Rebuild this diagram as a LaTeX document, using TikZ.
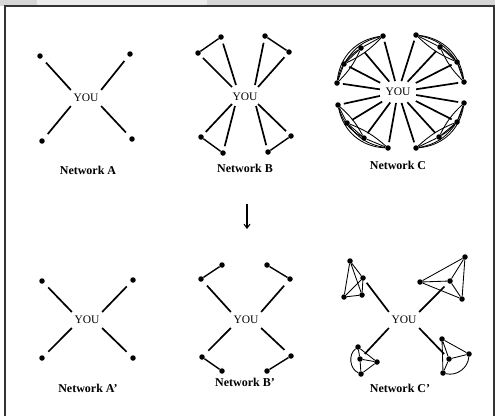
\documentclass[tikz,border=0pt]{standalone}
\usepackage{fontspec}
\setmainfont{Liberation Serif}
\usetikzlibrary{calc,arrows.meta}
\definecolor{stripgray}{HTML}{D6D6D6}
\definecolor{striplight}{HTML}{EBEBEB}
\definecolor{framegray}{HTML}{333333}
\begin{document}
\begin{tikzpicture}[x=1pt,y=-1pt,
  dot/.style={circle,fill=black,inner sep=0pt,minimum size=5.5pt},
  you/.style={inner xsep=2.5pt,inner ysep=4pt,font=\fontsize{11.5}{12}\selectfont},
  netlabel/.style={font=\fontsize{12}{13}\selectfont\bfseries},
  link/.style={line width=1.7pt},
  tie/.style={line width=1.4pt},
  thin tie/.style={line width=0.85pt},
  vbend/.style={bend right=#1},
]
\useasboundingbox (0,0) rectangle (495,416);

% page strip and frame
\fill[stripgray] (0,0) rectangle (495,6);
\fill[striplight] (37,0) rectangle (207,6);
\draw[framegray,line width=1.5pt] (5,416) -- (5,6) -- (494,6) -- (494,416);

% ---------------- Network A ----------------
\node[you] (ya) at (86,98) {YOU};
\node[dot] (a1) at (40,56) {};
\node[dot] (a2) at (130,54) {};
\node[dot] (a3) at (42,141) {};
\node[dot] (a4) at (132,139) {};
\draw[link,shorten <=6pt] (a1) -- (ya.north west);
\draw[link,shorten <=6pt] (a2) -- (ya.north east);
\draw[link,shorten <=6pt] (a3) -- (ya.south west);
\draw[link,shorten <=6pt] (a4) -- (ya.south east);
\node[netlabel] (la) at (88,170) {Network A};

% ---------------- Network B ----------------
\node[you] (yb) at (245,97) {YOU};
\node[dot] (b1) at (198,53) {};
\node[dot] (b2) at (221,37) {};
\node[dot] (b3) at (265,36) {};
\node[dot] (b4) at (289,52) {};
\node[dot] (b5) at (201,137) {};
\node[dot] (b6) at (223,153) {};
\node[dot] (b7) at (268,152) {};
\node[dot] (b8) at (291,136) {};
\draw[tie] (b1) -- (b2);
\draw[tie] (b3) -- (b4);
\draw[tie] (b5) -- (b6);
\draw[tie] (b7) -- (b8);
\draw[link,shorten <=4pt] (b1) -- ($(yb)+(-13,-10)$);
\draw[link,shorten <=4pt] (b2) -- ($(yb)+(-9,-12)$);
\draw[link,shorten <=4pt] (b3) -- ($(yb)+(10,-12)$);
\draw[link,shorten <=4pt] (b4) -- ($(yb)+(13,-10)$);
\draw[link,shorten <=4pt] (b5) -- ($(yb)+(-13,7)$);
\draw[link,shorten <=4pt] (b6) -- ($(yb)+(-10,9)$);
\draw[link,shorten <=4pt] (b7) -- ($(yb)+(11,9)$);
\draw[link,shorten <=4pt] (b8) -- ($(yb)+(13,7)$);
\node[netlabel] (lb) at (245,168) {Network B};

% ---------------- Network C ----------------
\node[you] (yc) at (398,92) {YOU};
% clusters, each listed counterclockwise around YOU
\node[dot] (cul1) at (383,36) {};
\node[dot] (cul2) at (361,48) {};
\node[dot] (cul3) at (344,64) {};
\node[dot] (cul4) at (337,83) {};
\node[dot] (cll1) at (338,105) {};
\node[dot] (cll2) at (347,123) {};
\node[dot] (cll3) at (364,138) {};
\node[dot] (cll4) at (388,148) {};
\node[dot] (clr1) at (416,148) {};
\node[dot] (clr2) at (439,137) {};
\node[dot] (clr3) at (457,122) {};
\node[dot] (clr4) at (464,103) {};
\node[dot] (cur1) at (464,82) {};
\node[dot] (cur2) at (457,62) {};
\node[dot] (cur3) at (440,47) {};
\node[dot] (cur4) at (416,35) {};
\foreach \g in {cul,cll,clr,cur}{
  \draw[thin tie] (\g1) -- (\g2) -- (\g3) -- (\g4);
  \draw[thin tie] (\g1) to[vbend=22] (\g3);
  \draw[thin tie] (\g1) to[vbend=-10] (\g3);
  \draw[thin tie] (\g2) to[vbend=22] (\g4);
  \draw[thin tie] (\g2) to[vbend=-10] (\g4);
  \draw[thin tie] (\g1) to[vbend=38] (\g4);
  \foreach \k in {1,2,3,4}
    \draw[link,shorten <=3pt,shorten >=3pt] (\g\k) -- (yc);
}
\node[netlabel] (lc) at (398,165) {Network C};

% arrow between the two rows
\coordinate (arrtop) at (247,204);
\coordinate (arrbot) at (247,229);
\draw[line width=1.1pt,-{Straight Barb[length=4pt,width=6pt]}] (arrtop) -- (arrbot);

% ---------------- Network A' ----------------
\node[you] (ya2) at (87,320) {YOU};
\node[dot] (d1) at (42,281) {};
\node[dot] (d2) at (133,280) {};
\node[dot] (d3) at (42,358) {};
\node[dot] (d4) at (133,358) {};
\draw[link,shorten <=6pt] (d1) -- (ya2.north west);
\draw[link,shorten <=6pt] (d2) -- (ya2.north east);
\draw[link,shorten <=6pt] (d3) -- (ya2.south west);
\draw[link,shorten <=6pt] (d4) -- (ya2.south east);
\node[netlabel] (la2) at (88,388) {Network A’};

% ---------------- Network B' ----------------
\node[you] (yb2) at (246,320) {YOU};
\node[dot] (e1) at (201,279) {};
\node[dot] (e2) at (222,265) {};
\node[dot] (e3) at (267,265) {};
\node[dot] (e4) at (290,279) {};
\node[dot] (e5) at (202,357) {};
\node[dot] (e6) at (222,371) {};
\node[dot] (e7) at (267,371) {};
\node[dot] (e8) at (291,356) {};
\draw[tie] (e1) -- (e2);
\draw[tie] (e3) -- (e4);
\draw[tie] (e5) -- (e6);
\draw[tie] (e7) -- (e8);
\draw[link,shorten <=6pt] (e1) -- (yb2.north west);
\draw[link,shorten <=6pt] (e4) -- (yb2.north east);
\draw[link,shorten <=6pt] (e5) -- (yb2.south west);
\draw[link,shorten <=6pt] (e8) -- (yb2.south east);
\node[netlabel] (lb2) at (245,382) {Network B’};

% ---------------- Network C' ----------------
\node[you] (yc2) at (404,320) {YOU};
% upper-left group
\node[dot] (fa) at (350,261) {};
\node[dot] (fb) at (363,278) {};
\node[dot] (fc) at (344,297) {};
\node[dot] (fd) at (362,295) {};
\draw[thin tie] (fa) -- (fb) -- (fd) -- (fc) -- (fa) -- (fd);
\draw[thin tie] (fc) -- (fb);
\draw[link,shorten <=3pt] (fb) -- (yc2.north west);
% upper-right group
\node[dot] (ga) at (465,257) {};
\node[dot] (gb) at (420,282) {};
\node[dot] (gc) at (450,281) {};
\node[dot] (gd) at (462,299) {};
\draw[thin tie] (gb) -- (ga) -- (gc) -- (gb) -- (gd) -- (gc);
\draw[thin tie] (ga) -- (gd);
\draw[link,shorten <=5pt] (gc) -- (yc2.north east);
% lower-left group
\node[dot] (ha) at (358,347) {};
\node[dot] (hb) at (360,359) {};
\node[dot] (hc) at (377,362) {};
\node[dot] (hd) at (361,374) {};
\draw[thin tie] (ha) -- (hb) -- (hd) -- (hc) -- (ha);
\draw[thin tie] (hb) -- (hc);
\draw[thin tie] (ha) to[vbend=60] (hd);
\draw[link,shorten <=4pt] (hb) -- (yc2.south west);
% lower-right group
\node[dot] (ia) at (442,339) {};
\node[dot] (ib) at (449,359) {};
\node[dot] (ic) at (469,354) {};
\node[dot] (id) at (443,373) {};
\draw[thin tie] (ia) -- (ib) -- (ic) -- (ia) -- (id) -- (ib);
\draw[thin tie] (id) to[vbend=50] (ic);
\draw[link,shorten <=4pt] (ib) -- (yc2.south east);
\node[netlabel] (lc2) at (400,388) {Network C’};
\end{tikzpicture}
\end{document}
